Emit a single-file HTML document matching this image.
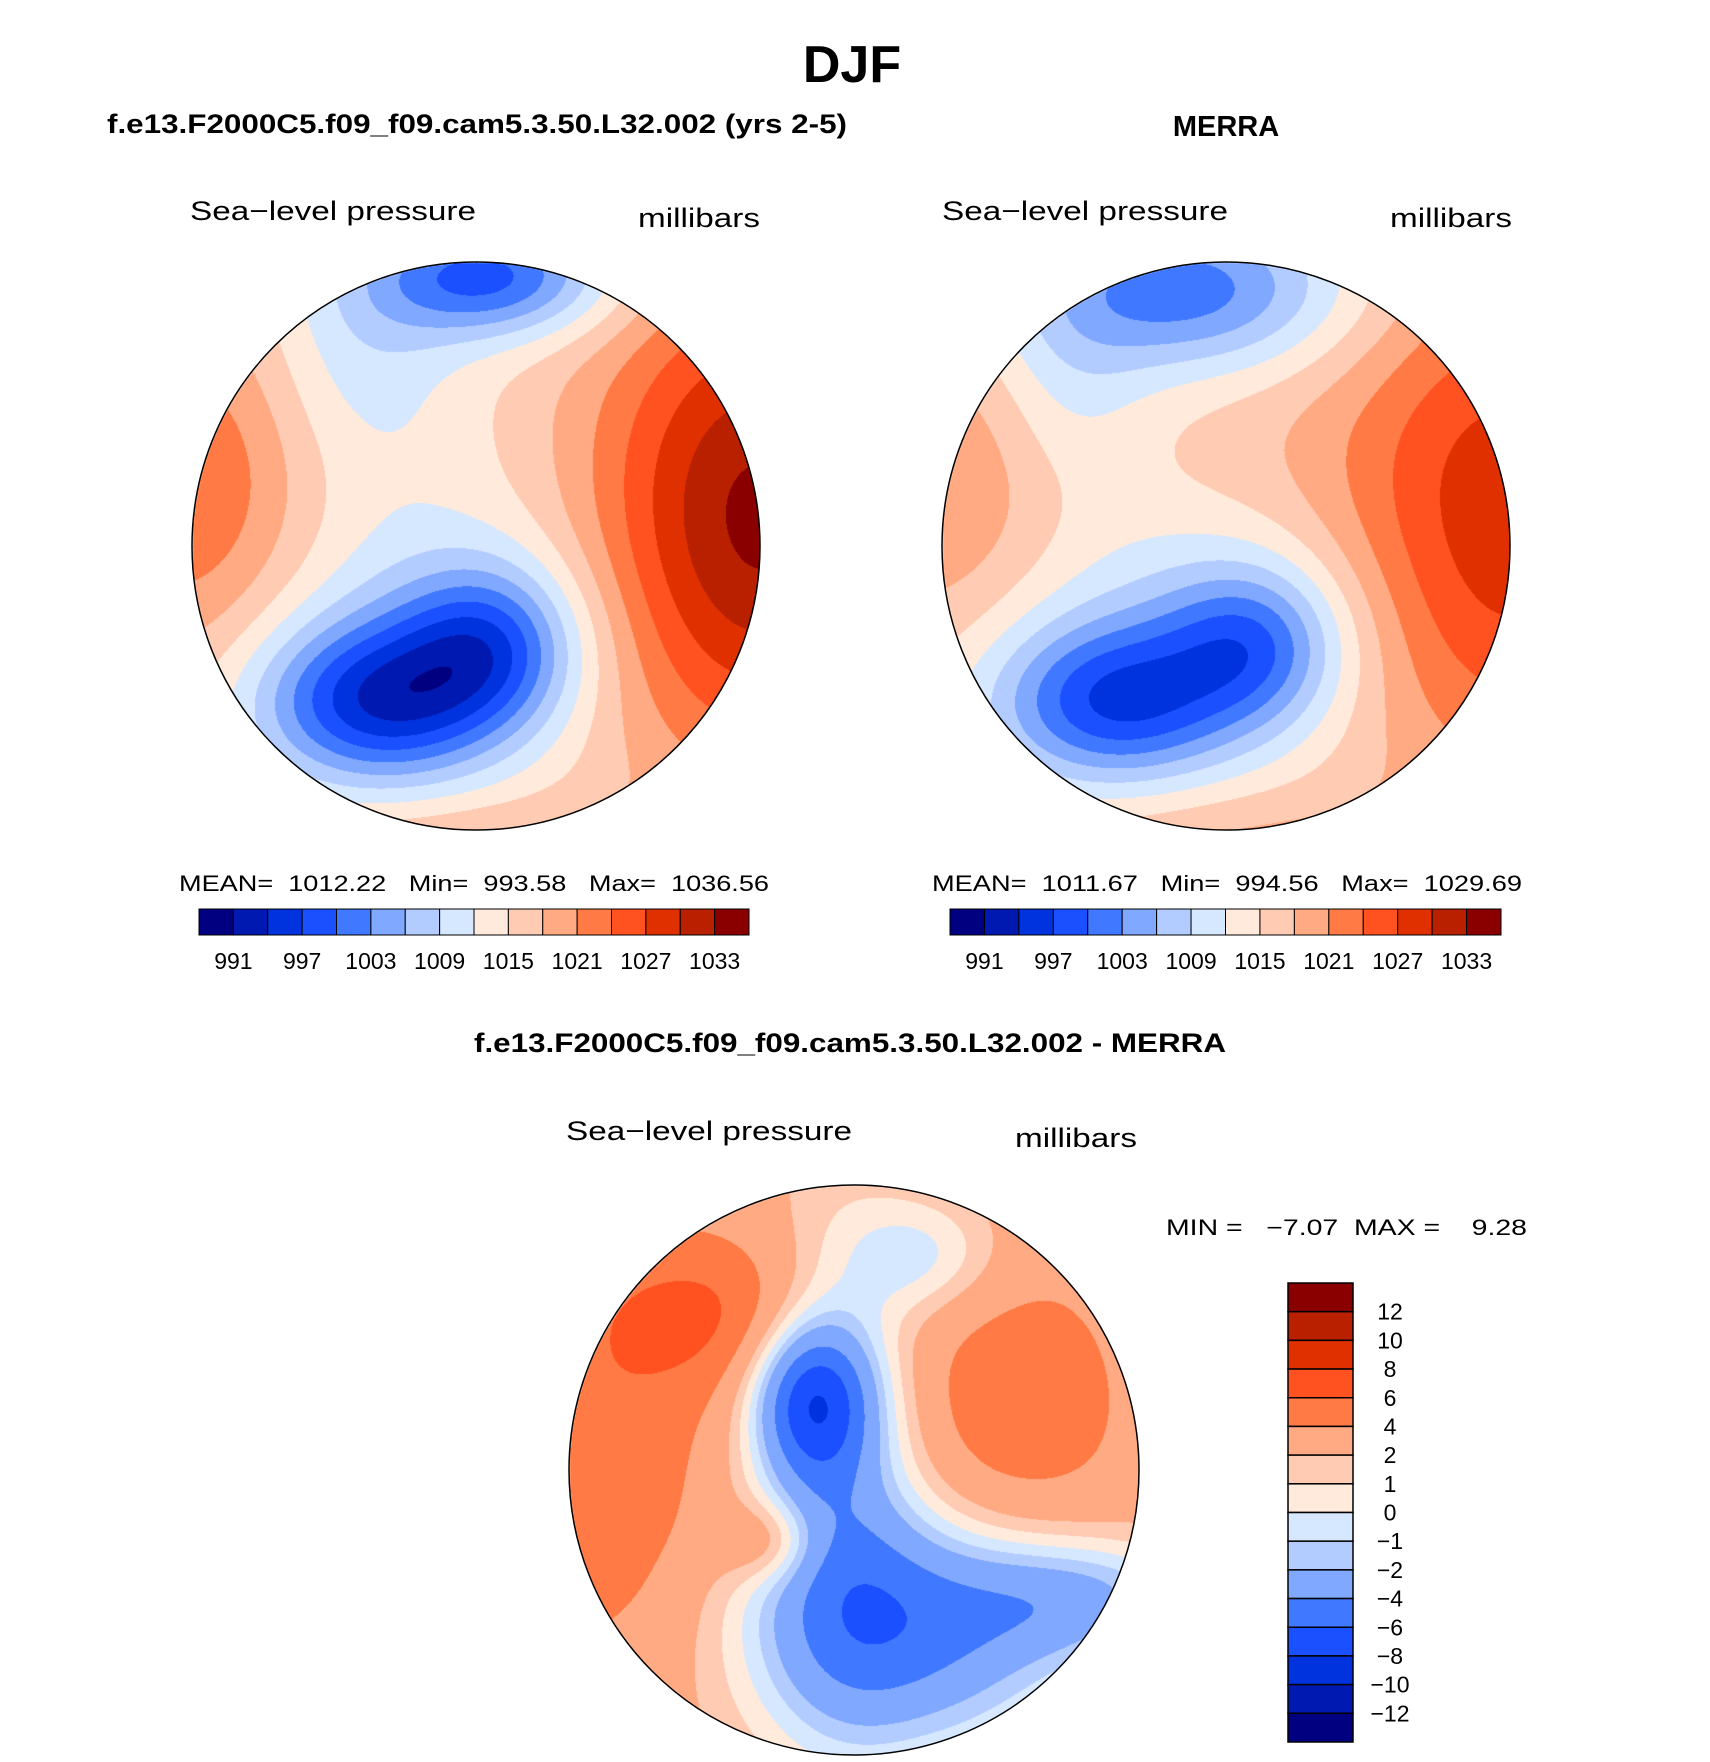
<!DOCTYPE html>
<html><head><meta charset="utf-8">
<style>
html,body{margin:0;padding:0;background:#fff;}
#wrap{position:relative;width:1710px;height:1762px;overflow:hidden;font-family:"Liberation Sans",sans-serif;}
svg{position:absolute;left:0;top:0;}
canvas{position:absolute;border-radius:50%;}
</style></head><body>
<div id="wrap">
<canvas id="mapA" width="568" height="568" style="left:192px;top:262px"></canvas>
<canvas id="mapB" width="568" height="568" style="left:942px;top:262px"></canvas>
<canvas id="mapC" width="570" height="570" style="left:569px;top:1185px"></canvas>
<svg id="svg" width="1710" height="1762" xmlns="http://www.w3.org/2000/svg">
 <text x="852" y="82" font-size="52" font-weight="bold" text-anchor="middle" font-family="Liberation Sans">DJF</text>
 <text x="107" y="133" font-size="27" font-weight="bold" textLength="740" lengthAdjust="spacingAndGlyphs" font-family="Liberation Sans">f.e13.F2000C5.f09_f09.cam5.3.50.L32.002 (yrs 2-5)</text>
 <text x="1226" y="136" font-size="29" font-weight="bold" text-anchor="middle" font-family="Liberation Sans">MERRA</text>
 <text x="850" y="1052" font-size="27" font-weight="bold" text-anchor="middle" textLength="752" lengthAdjust="spacingAndGlyphs" font-family="Liberation Sans">f.e13.F2000C5.f09_f09.cam5.3.50.L32.002 - MERRA</text>

 <text x="190" y="220" font-size="27" textLength="286" lengthAdjust="spacingAndGlyphs">Sea−level pressure</text>
 <text x="638" y="227" font-size="27" textLength="122" lengthAdjust="spacingAndGlyphs">millibars</text>
 <text x="942" y="220" font-size="27" textLength="286" lengthAdjust="spacingAndGlyphs">Sea−level pressure</text>
 <text x="1390" y="227" font-size="27" textLength="122" lengthAdjust="spacingAndGlyphs">millibars</text>
 <text x="566" y="1140" font-size="27" textLength="286" lengthAdjust="spacingAndGlyphs">Sea−level pressure</text>
 <text x="1015" y="1147" font-size="27" textLength="122" lengthAdjust="spacingAndGlyphs">millibars</text>

 <text x="179" y="891" font-size="22" xml:space="preserve" textLength="590" lengthAdjust="spacingAndGlyphs">MEAN=  1012.22   Min=  993.58   Max=  1036.56</text>
 <text x="932" y="891" font-size="22" xml:space="preserve" textLength="590" lengthAdjust="spacingAndGlyphs">MEAN=  1011.67   Min=  994.56   Max=  1029.69</text>
 <text x="1166" y="1235" font-size="22" xml:space="preserve" textLength="361" lengthAdjust="spacingAndGlyphs">MIN =   −7.07  MAX =    9.28</text>

 <circle cx="476" cy="546" r="284" fill="none" stroke="#000" stroke-width="1.5"/>
 <circle cx="1226" cy="546" r="284" fill="none" stroke="#000" stroke-width="1.5"/>
 <circle cx="854" cy="1470" r="285" fill="none" stroke="#000" stroke-width="1.5"/>
 <g id="bars"></g>
</svg>
</div>
<script>
// ---- colour tables / levels ----
const colors = ["#000080","#0019b0","#0033dd","#1a50ff","#4078ff","#80a8ff","#b3ccff","#d6e8ff","#ffeadb","#ffcbb3","#ffaa82","#ff7a45","#ff5220","#e03000","#b82000","#8a0000"];
const absLevels = [991,994,997,1000,1003,1006,1009,1012,1015,1018,1021,1024,1027,1030,1033];
const absTickLabels = ["991","997","1003","1009","1015","1021","1027","1033"];
const diffLevels = [-12,-10,-8,-6,-4,-2,-1,0,1,2,4,6,8,10,12];
const diffTickLabels = ["12","10","8","6","4","2","1","0","−1","−2","−4","−6","−8","−10","−12"];
// ---- field blobs: [x, y, amplitude, sigmaX, sigmaY] in units of map radius ----
const modelBase = 1015;
const modelBlobs = [[-0.35,0.55,-18,0.3,0.2],[0.05,0.35,-13,0.22,0.2],[-0.15,0.25,-5,0.45,0.35],[0.05,-0.95,-16,0.3,0.15],[-0.4,-0.7,-5,0.25,0.3],[1.0,-0.1,19,0.42,0.6],[-1.0,-0.2,9,0.3,0.45],[0,1.05,4,0.5,0.12]];
const merraBase = 1015;
const merraBlobs = [[-0.4,0.55,-16,0.3,0.2],[0.1,0.35,-12,0.22,0.2],[-0.15,0.25,-5,0.45,0.35],[-0.15,-0.9,-14,0.4,0.2],[-0.55,-0.55,-4,0.2,0.25],[1.0,-0.1,14,0.42,0.65],[-1.0,-0.2,6,0.3,0.4],[0.1,-0.3,2,0.45,0.3],[0,1.05,4,0.5,0.15]];
const diffBase = 2.5;
const diffBlobs = [[-0.15,-0.25,-8,0.15,0.2],[-0.05,0.0,-4,0.2,0.6],[0.2,0.55,-7,0.4,0.3],[0.8,0.45,-4,0.3,0.15],[0.55,-0.2,3,0.3,0.4],[-0.5,-0.55,3.5,0.3,0.2],[-0.9,0.0,3,0.3,0.5],[-0.3,0.25,3,0.12,0.1],[0.25,-0.75,-3,0.2,0.15]];

function levelIndex(v, levels){let i=0;for(const l of levels){if(v>=l)i++;}return i;}
function hexRGB(h){return [parseInt(h.substr(1,2),16),parseInt(h.substr(3,2),16),parseInt(h.substr(5,2),16)];}
const rgb = colors.map(hexRGB);
function drawMap(id, base, blobs, levels){
  const c=document.getElementById(id),ctx=c.getContext('2d'),W=c.width,R=W/2;
  const img=ctx.createImageData(W,W);
  for(let py=0;py<W;py++)for(let px=0;px<W;px++){
    const x=(px-R)/R,y=(py-R)/R;
    if(x*x+y*y>1.0)continue;
    let v=base;
    for(const b of blobs){const dx=(x-b[0])/b[3],dy=(y-b[1])/b[4];v+=b[2]*Math.exp(-0.5*(dx*dx+dy*dy));}
    let k=levelIndex(v,levels);k=Math.max(0,Math.min(15,k));
    const o=(py*W+px)*4,col=rgb[k];
    img.data[o]=col[0];img.data[o+1]=col[1];img.data[o+2]=col[2];img.data[o+3]=255;
  }
  ctx.putImageData(img,0,0);
}
drawMap('mapA',modelBase,modelBlobs,absLevels);
drawMap('mapB',merraBase,merraBlobs,absLevels);
drawMap('mapC',diffBase,diffBlobs,diffLevels);

// ---- colour bars ----
const NS='http://www.w3.org/2000/svg';
const g=document.getElementById('bars');
function hbar(x0,y0,w,h,name){
  const bw=w/colors.length;
  colors.forEach((col,i)=>{
    const r=document.createElementNS(NS,'rect');
    r.setAttribute('x',x0+i*bw);r.setAttribute('y',y0);r.setAttribute('width',bw);r.setAttribute('height',h);
    r.setAttribute('fill',col);r.setAttribute('stroke','#000');r.setAttribute('stroke-width','1');
    
    
    g.appendChild(r);
  });
  absTickLabels.forEach((t,j)=>{
    const tx=document.createElementNS(NS,'text');
    tx.setAttribute('x',x0+(1+2*j)*bw);tx.setAttribute('y',y0+h+34);
    tx.setAttribute('font-size','23');tx.setAttribute('text-anchor','middle');tx.setAttribute('font-family','Liberation Sans');
    tx.textContent=t;
    
    
    g.appendChild(tx);
  });
}
hbar(199,909,550,26,'model-colorbar');
hbar(950,909,551,26,'merra-colorbar');
(function(){
  const x0=1288,y0=1283,w=65,h=459,bh=h/colors.length;
  colors.slice().reverse().forEach((col,i)=>{
    const r=document.createElementNS(NS,'rect');
    r.setAttribute('x',x0);r.setAttribute('y',y0+i*bh);r.setAttribute('width',w);r.setAttribute('height',bh);
    r.setAttribute('fill',col);r.setAttribute('stroke','#000');r.setAttribute('stroke-width','1.5');
    
    
    g.appendChild(r);
  });
  diffTickLabels.forEach((t,j)=>{
    const tx=document.createElementNS(NS,'text');
    tx.setAttribute('x',x0+w+37);tx.setAttribute('y',y0+(j+1)*bh+8);
    tx.setAttribute('font-size','23');tx.setAttribute('text-anchor','middle');tx.setAttribute('font-family','Liberation Sans');
    tx.textContent=t;
    
    
    g.appendChild(tx);
  });
})();
</script>
</body></html>
